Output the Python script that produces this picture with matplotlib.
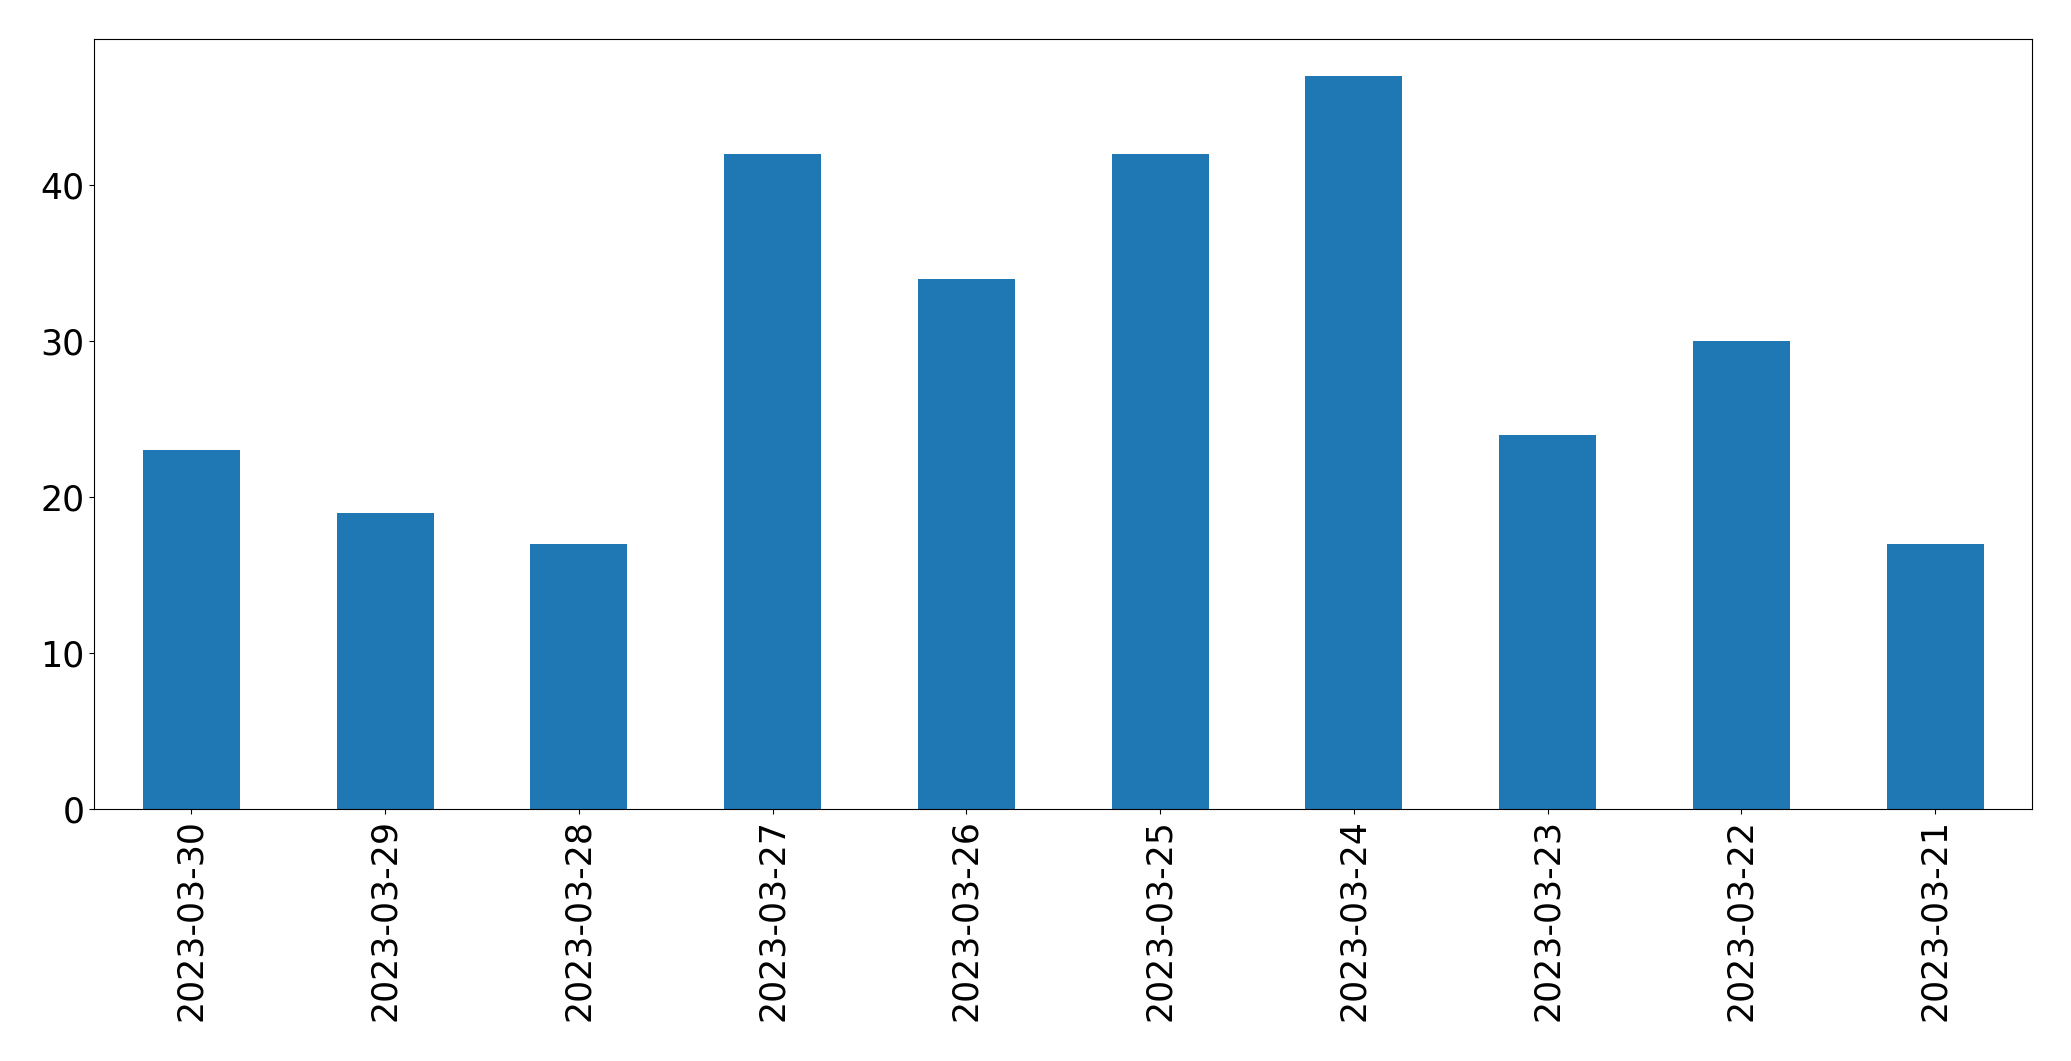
import matplotlib
matplotlib.use("Agg")
import matplotlib.pyplot as plt
import numpy as np

dates = ['2023-03-30', '2023-03-29', '2023-03-28', '2023-03-27', '2023-03-26',
         '2023-03-25', '2023-03-24', '2023-03-23', '2023-03-22', '2023-03-21']
counts = [23, 19, 17, 42, 34, 42, 47, 24, 30, 17]

fig = plt.figure(figsize=(20.71, 10.61), dpi=100)
ax = fig.add_axes([0.0456, 0.2375, 0.9356, 0.7253])

x = np.arange(len(dates))
ax.bar(x, counts, width=0.5, color='#1f77b4')
ax.set_xlim(-0.5, len(dates) - 0.5)
ax.set_ylim(0, max(counts) * 1.05)
ax.set_xticks(x)
ax.set_xticklabels(dates, rotation=90)
ax.set_yticks([0, 10, 20, 30, 40])
ax.tick_params(labelsize=25)

fig.savefig('out.png', dpi=100)
